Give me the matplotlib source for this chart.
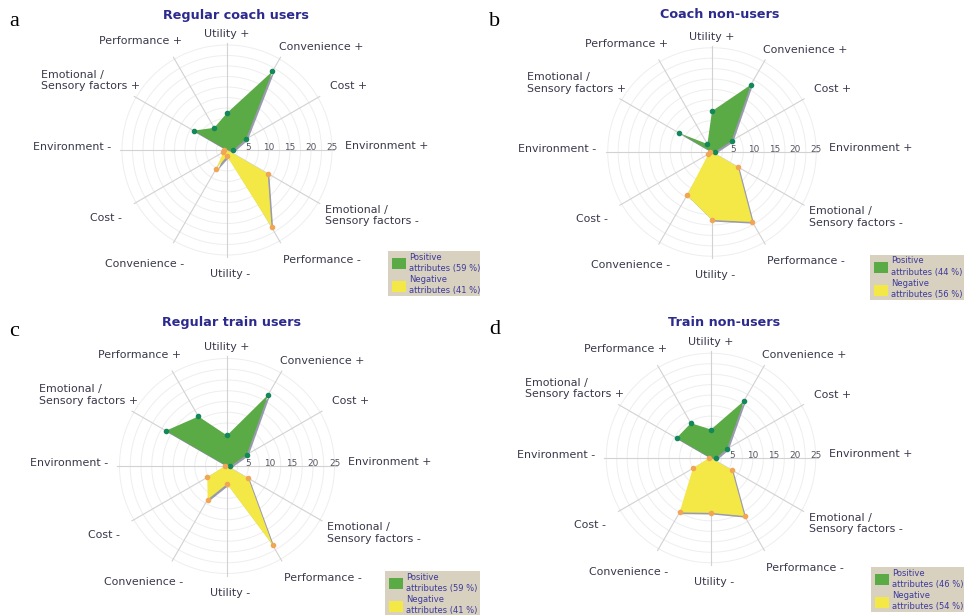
import matplotlib.pyplot as plt
import numpy as np
import matplotlib.patheffects as pe
from matplotlib.patches import Rectangle

# attribute axes, clockwise from the top
attributes = ["Utility +", "Convenience +", "Cost +", "Environment +",
              "Emotional /\nSensory factors -", "Performance -", "Utility -",
              "Convenience -", "Cost -", "Environment -",
              "Emotional /\nSensory factors +", "Performance +"]
pos_idx = [0, 1, 2, 3, 10, 11]   # Utility+, Convenience+, Cost+, Environment+, Emotional+, Performance+
neg_idx = [4, 5, 6, 7, 8, 9]     # Emotional-, Performance-, Utility-, Convenience-, Cost-, Environment-

titles = ["Regular coach users", "Coach non-users", "Regular train users", "Train non-users"]
letters = ["a", "b", "c", "d"]

pos_a = [8.8, 21.6, 5.2, 1.5, 9.2, 6.1]
neg_a = [11.2, 21.2, 1.5, 5.1, 1.0, 0.6]
pos_b = [9.8, 18.6, 5.4, 0.6, 9.1, 2.2]
neg_b = [7.2, 19.4, 16.3, 12.0, 1.0, 0.5]
pos_c = [7.1, 19.1, 5.3, 0.8, 16.4, 13.3]
neg_c = [5.7, 21.3, 4.2, 9.0, 5.3, 0.5]
pos_d = [6.8, 15.7, 4.4, 1.2, 9.5, 9.6]
neg_d = [5.8, 16.0, 13.1, 15.0, 5.0, 0.5]

pos_share = [59, 44, 59, 46]
neg_share = [41, 56, 41, 54]
ticks = [5, 10, 15, 20, 25]

W, H = 964, 615
fig = plt.figure(figsize=(W / 100, H / 100), dpi=100)
fig.patch.set_facecolor("white")

# panel centres (px) and px per unit
panels = [(227, 150, 4.2), (712, 152, 4.17), (227, 466, 4.3), (711, 458, 4.19)]
title_pos = [(236, 16), (720, 14), (231, 323), (724, 323)]
letter_pos = [(14, 22), (495, 22), (14, 331), (495, 330)]
legend_box = [(388, 251), (870, 255), (385, 571), (871, 567)]

# label offsets from spoke end in px (dx right, dy up) and horizontal alignment
lab_off = [(0, 9, "center"), (-2, 10, "left"), (10, 10, "left"), (11, 4, "left"),
           (5, -12, "left"), (2, -17, "left"), (3, -17, "center"), (11, -21, "right"),
           (-12, -14, "right"), (-9, 3, "right"), (6, 16, "right"), (9, 16, "right")]

green = "#5aab45"
green_dot = "#14885a"
yellow = "#f3e845"
orange = "#f1a655"
txt_col = "#38384a"

theta = np.deg2rad(np.arange(12) * 30)
R_END = 25.5
data = [(pos_a, neg_a), (pos_b, neg_b), (pos_c, neg_c), (pos_d, neg_d)]

for k, (cx, cy, s) in enumerate(panels):
    R = 26 * s
    ax = fig.add_axes([(cx - R) / W, (H - cy - R) / H, 2 * R / W, 2 * R / H], projection="polar")
    ax.set_theta_zero_location("N")
    ax.set_theta_direction(-1)
    ax.set_ylim(0, 26)
    ax.set_axis_off()

    # rings and spokes
    t = np.linspace(0, 2 * np.pi, 300)
    for r in np.arange(2.5, 25.1, 2.5):
        ax.plot(t, np.full_like(t, r), color="#eeeeee", lw=0.7, zorder=1)
    for th in theta:
        ax.plot([th, th], [0, R_END], color="#d2d2d2", lw=0.8, zorder=1)

    pos, neg = data[k]
    pv = np.zeros(12)
    nv = np.zeros(12)
    pv[pos_idx] = pos
    nv[neg_idx] = neg
    shadow = [pe.SimplePatchShadow(offset=(1.2, -1.2), shadow_rgbFace="#6f6f8f", alpha=0.7), pe.Normal()]
    th_c = np.append(theta, theta[0])
    ax.fill(th_c, np.append(pv, pv[0]), color=green, zorder=3, lw=0, path_effects=shadow)
    ax.fill(th_c, np.append(nv, nv[0]), color=yellow, zorder=3, lw=0, path_effects=shadow)
    ax.plot(theta[pos_idx], pv[pos_idx], "o", color=green_dot, ms=3, zorder=4)
    ax.plot(theta[neg_idx], nv[neg_idx], "o", color=orange, ms=3, zorder=4)

    for i, lab in enumerate(attributes):
        dx, dy, ha = lab_off[i]
        ax.annotate(lab, xy=(theta[i], R_END), xytext=(dx * 0.72, dy * 0.72),
                    textcoords="offset points", ha=ha, va="center", fontsize=7.9,
                    color=txt_col, multialignment="left", zorder=5)
    for tk in ticks:
        ax.annotate(str(tk), xy=(np.pi / 2, tk), xytext=(0, 2), textcoords="offset points",
                    ha="center", va="center", fontsize=6.4, color="#555560", zorder=5)

    tx, ty = title_pos[k]
    fig.text(tx / W, 1 - ty / H, titles[k], ha="center", va="center", fontsize=9.2,
             fontweight="bold", color="#2d2a8e")
    lx, ly = letter_pos[k]
    fig.text(lx / W, 1 - ly / H, letters[k], ha="center", va="center", fontsize=16,
             family="Liberation Serif", color="black")

    # legend box
    bx, by = legend_box[k]
    bw = min(W, bx + 94) - bx if k % 2 else 480 - bx
    fig.patches.append(Rectangle((bx / W, 1 - (by + 45) / H), bw / W, 45 / H,
                                 transform=fig.transFigure, facecolor="#d8d1c0",
                                 edgecolor="none", zorder=0))
    fig.patches.append(Rectangle(((bx + 4) / W, 1 - (by + 18) / H), 14 / W, 11 / H,
                                 transform=fig.transFigure, facecolor=green, edgecolor="none"))
    fig.patches.append(Rectangle(((bx + 4) / W, 1 - (by + 41) / H), 14 / W, 11 / H,
                                 transform=fig.transFigure, facecolor=yellow, edgecolor="none"))
    lines = ["Positive", "attributes (%d %%)" % pos_share[k],
             "Negative", "attributes (%d %%)" % neg_share[k]]
    for j, ln in enumerate(lines):
        fig.text((bx + 21) / W, 1 - (by + 6 + j * 11) / H, ln, ha="left", va="center",
                 fontsize=6.0, color="#3d3a9c")

fig.savefig("out.png", dpi=100)
